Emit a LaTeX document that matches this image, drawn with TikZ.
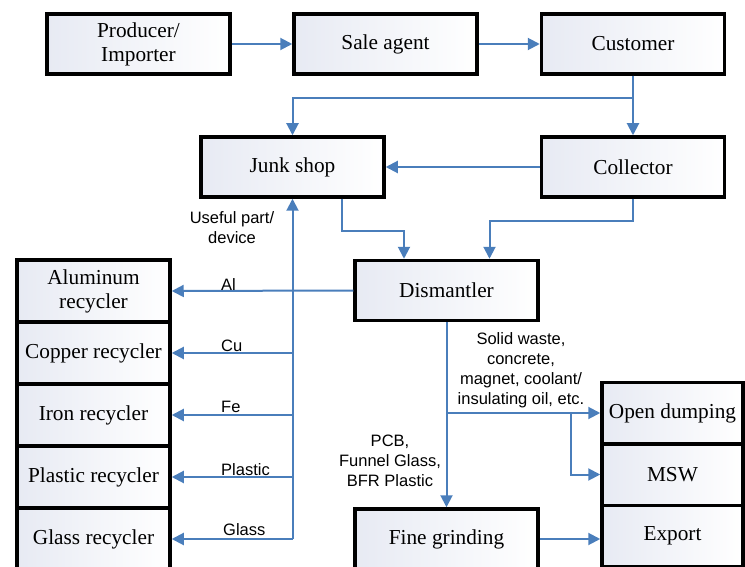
\documentclass[tikz,border=0pt]{standalone}
\usepackage{fontspec}
\setmainfont{Liberation Serif}
\setsansfont{Liberation Sans}
\usetikzlibrary{arrows.meta}
\definecolor{flowblue}{RGB}{74,126,187}
\definecolor{boxgray}{RGB}{231,234,243}

\begin{document}
\begin{tikzpicture}[x=1pt,y=-1pt,
    box/.style={draw,rectangle,line width=3.5pt,left color=boxgray,right color=white,
      minimum width=183pt,minimum height=60pt,align=center,inner sep=2pt,
      font=\fontsize{21.3}{24}\selectfont},
    recbox/.style={box,minimum width=153pt,minimum height=62pt},
    endbox/.style={box,minimum width=141pt,minimum height=61.5pt},
    flow/.style={draw=flowblue,line width=2pt,-{Triangle[length=12pt,width=12pt]}},
    lab/.style={font=\sffamily\fontsize{16.5}{20}\selectfont,align=center,inner sep=0pt}]
        \useasboundingbox (0,0) rectangle (745,567);
        % Define the nodes for the chain
        \node[box] (prod) at (138.5,44) {Producer/\\Importer};
        \node[box] (sale) at (385.5,44) {Sale agent};
        \node[box] (cust) at (633,44)   {Customer};
        \node[box] (junk) at (292.5,167) {Junk shop};
        \node[box] (coll) at (633,167)   {Collector};
        \node[box] (dism) at (446.5,290.5) {Dismantler};
        \node[box] (fine) at (446.5,539)   {Fine grinding};
        % Define the nodes for recyclers
        \node[recbox] (alum)    at (93.5,291) {Aluminum\\recycler};
        \node[recbox] (copper)  at (93.5,353) {Copper recycler};
        \node[recbox] (iron)    at (93.5,415) {Iron recycler};
        \node[recbox] (plastic) at (93.5,477) {Plastic recycler};
        \node[recbox] (glass)   at (93.5,539) {Glass recycler};
        % Define the nodes for disposal
        \node[endbox] (open)   at (672.5,413)   {Open dumping};
        \node[endbox] (msw)    at (672.5,474.5) {MSW};
        \node[endbox] (export) at (672.5,536)   {Export};
        % Connect the nodes for the chain
        \draw[flow] (prod) -- (sale);
        \draw[flow] (sale) -- (cust);
        \draw[flow] (cust.south) -- ++(0,22) -| (junk.north);
        \draw[flow] (cust.south) -- (coll.north);
        \draw[flow] (coll.west) -- (junk.east);
        \draw[flow] ([xshift=49.5pt]junk.south) -- ++(0,32) -| ([xshift=-42.5pt]dism.north);
        \draw[flow] (coll.south) -- ++(0,22) -| ([xshift=43pt]dism.north);
        % Connect the nodes for recyclers
        \draw[flow] (dism.west) -- (alum.east);
        \draw[flow] (glass.east -| junk.south) -- (junk.south);
        \foreach \rec in {copper,iron,plastic,glass}
            \draw[flow] (\rec.east -| junk.south) -- (\rec.east);
        \node[lab,anchor=base west] (lal) at (221,290) {Al};
        \node[lab,anchor=base west] (lcu) at (221,351) {Cu};
        \node[lab,anchor=base west] (lfe) at (221,412) {Fe};
        \node[lab,anchor=base west] (lpl) at (221,475) {Plastic};
        \node[lab,anchor=base west] (lgl) at (223,535) {Glass};
        \node[lab] (luse) at (232,228) {Useful part/\\device};
        % Connect the nodes for disposal
        \draw[flow] (dism.south) -- (fine.north);
        \draw[flow] (dism.south |- open.west) -- (open.west);
        \draw[flow] ([xshift=-29pt]open.west) |- (msw.west);
        \draw[flow] (fine.east) -- (fine.east -| export.west);
        \node[lab] (lsolid) at (521,370) {Solid waste,\\concrete,\\magnet, coolant/\\insulating oil, etc.};
        \node[lab] (lpcb) at (390,461) {PCB,\\Funnel Glass,\\BFR Plastic};
    \end{tikzpicture}
\end{document}
